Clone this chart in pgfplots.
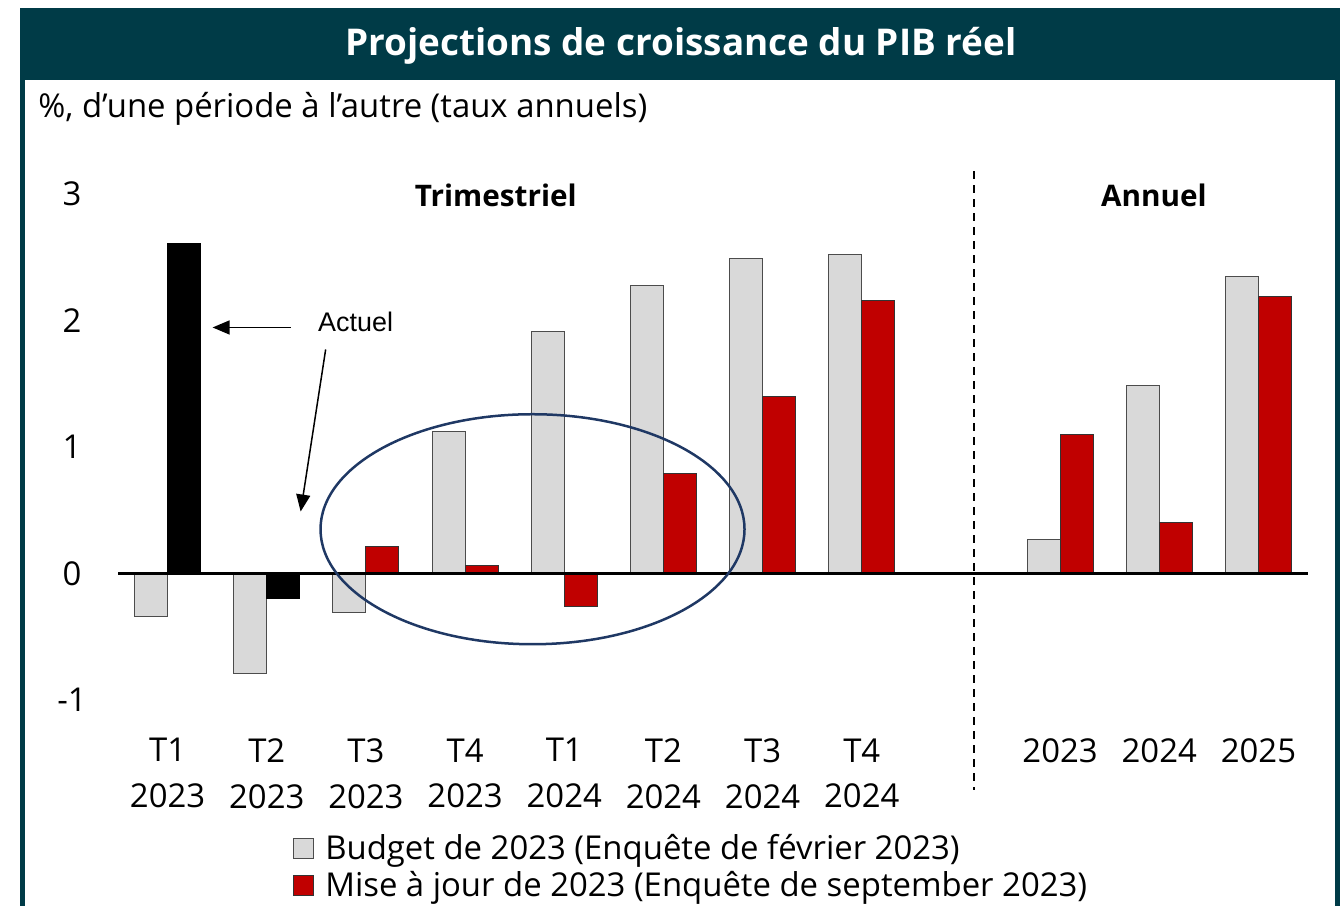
\documentclass[border=0pt]{standalone}
\usepackage{fontspec}
\setmainfont{Open Sans}
\newfontfamily\arialfont{Liberation Sans}
\usepackage{pgfplots}
\pgfplotsset{compat=1.18}
\usetikzlibrary{arrows.meta}
\definecolor{hdr}{RGB}{0,59,71}
\definecolor{barred}{RGB}{192,0,0}
\definecolor{bargrey}{RGB}{217,217,217}
\definecolor{ellblue}{RGB}{31,56,100}
\begin{document}
\begin{tikzpicture}
\useasboundingbox (0,0) rectangle (672bp,-453bp);
\fill[hdr] (10bp,-4bp) rectangle (670bp,-40bp);
\draw[hdr, line width=2.5bp] (11.25bp,-40bp) -- (11.25bp,-460bp);
\draw[hdr, line width=2.5bp] (668.75bp,-40bp) -- (668.75bp,-460bp);
\node[text=white, font=\bfseries\fontsize{18.5}{22}\selectfont] at (340.5bp,-23bp) {Projections de croissance du PIB réel};
\node[anchor=west, font=\fontsize{16.5}{20}\selectfont, inner sep=0pt] at (19bp,-54.5bp) {\%, d’une période à l’autre (taux annuels)};
\begin{axis}[
  at={(59bp,-350bp)}, anchor=south west,
  scale only axis, width=595bp, height=253bp,
  xmin=-0.5, xmax=11.5, ymin=-1, ymax=3,
  clip=false,
  axis line style={draw=none},
  major tick length=0pt,
  ytick={-1,0,1,2,3}, yticklabels={-1,0,1,2,3},
  yticklabel style={anchor=center, xshift=-23bp, font=\fontsize{16.5}{20}\selectfont},
  xtick={0,1,2,3,4,5,6,7,9,10,11},
  xticklabels={{T1\\2023},{T2\\2023},{T3\\2023},{T4\\2023},{T1\\2024},{T2\\2024},{T3\\2024},{T4\\2024},2023,2024,2025},
  xticklabel style={anchor=north, align=center, inner sep=0pt, yshift=-19bp, font=\fontsize{16.5}{23}\selectfont},
  ybar, bar width=16.5bp,
  legend style={at={(axis description cs:0.147,-0.258)}, anchor=north west, draw=none, fill=none,
    font=\fontsize{16.5}{19}\selectfont, row sep=1.5bp, inner sep=0pt, nodes={inner sep=1.5bp}},
  legend cell align=left,
  legend image code/.code={\draw[#1] (0bp,-5bp) rectangle (10bp,5bp); \path (14bp,0bp);},
]
\addplot[fill=bargrey, draw=black!70, line width=0.5bp, bar shift=-8.25bp] coordinates {
  (0,-0.34) (1,-0.79) (2,-0.31) (3,1.12) (4,1.91) (5,2.28) (6,2.49) (7,2.52) (9,0.27) (10,1.49) (11,2.35)};
\addlegendentry{Budget de 2023 (Enquête de février 2023)}
\addplot[fill=barred, draw=black!80, line width=0.5bp, bar shift=8.25bp] coordinates {
  (2,0.21) (3,0.06) (4,-0.26) (5,0.79) (6,1.40) (7,2.16) (9,1.10) (10,0.40) (11,2.19)};
\addlegendentry{Mise à jour de 2023 (Enquête de september 2023)}
\addplot[fill=black, draw=black, line width=0.5bp, bar shift=8.25bp, forget plot] coordinates {
  (0,2.61) (1,-0.20)};
\draw[black, line width=1.5bp] (axis cs:-0.5,0) -- (axis cs:11.5,0);
\draw[black, line width=0.9bp, dash pattern=on 4bp off 3bp] (axis cs:8.13,3.18) -- (axis cs:8.13,-1.71);
\node[font=\bfseries\fontsize{14.9}{18}\selectfont] at (axis cs:3.31,2.99) {Trimestriel};
\node[font=\bfseries\fontsize{14.9}{18}\selectfont] at (axis cs:9.946,2.99) {Annuel};
\draw[ellblue, line width=1.25bp] (axis cs:3.68,0.35) ellipse [x radius=106bp, y radius=57.5bp];
\draw[black, line width=0.75bp, -{Triangle[length=8.5bp, width=7bp]}] (axis cs:1.24,1.945) -- (axis cs:0.454,1.945);
\draw[black, line width=0.75bp, -{Triangle[length=8.5bp, width=7bp]}] (axis cs:1.594,1.771) -- (axis cs:1.342,0.49);
\node[font=\arialfont\fontsize{13.5}{16}\selectfont] at (axis cs:1.896,1.99) {Actuel};
\end{axis}
\end{tikzpicture}
\end{document}
